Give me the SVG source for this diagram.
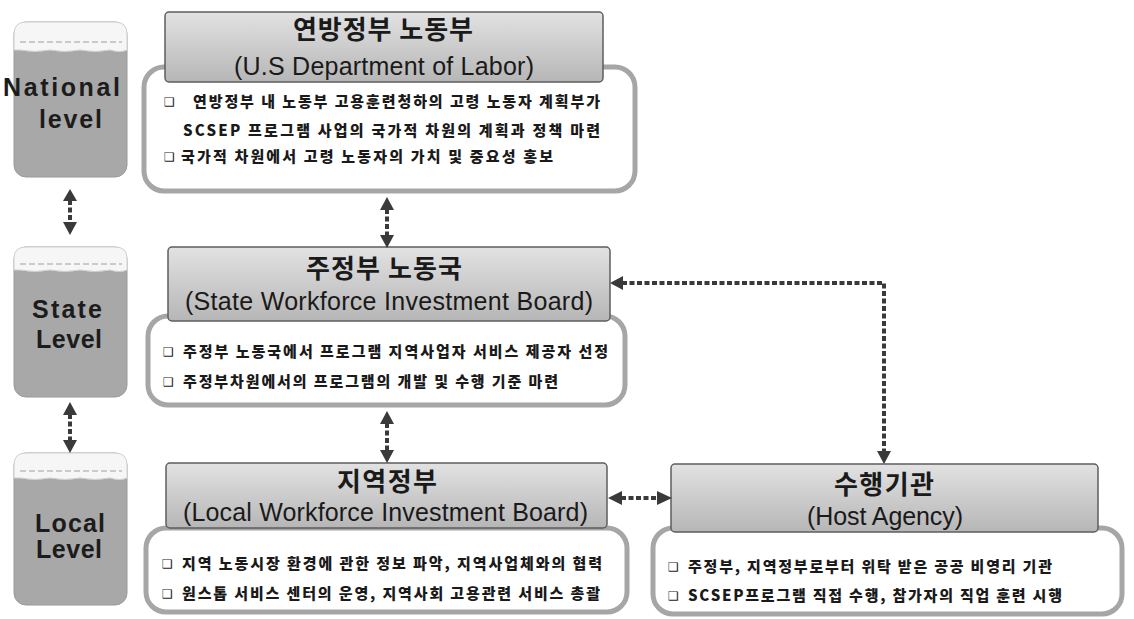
<svg xmlns="http://www.w3.org/2000/svg" width="1134" height="619" viewBox="0 0 1134 619">
<style>
.body{fill:#ffffff;stroke:#a6a6a6;stroke-width:5}
.head{fill:url(#hg);stroke:#5e5e5e;stroke-width:1.5}
.cyl{fill:#a8a8a8;stroke:#9a9a9a;stroke-width:1}
.cap{fill:#f6f6f6;stroke:#d0d0d0;stroke-width:1}
.capd{fill:none;stroke:#bcbcbc;stroke-width:1.5;stroke-dasharray:6 3}
.lvl{font-family:"Liberation Sans",Arial,sans-serif;font-weight:bold;font-size:25px;fill:#1c1c1c;text-anchor:start}
.ko{font-family:"Noto Sans CJK KR",sans-serif;font-weight:bold;font-size:26px;fill:#1a1a1a;text-anchor:middle}
.en{font-family:"Liberation Sans",Arial,sans-serif;font-size:25px;fill:#1a1a1a;text-anchor:start}
.bl{font-family:"Noto Sans CJK KR",sans-serif;font-weight:900;font-size:15px;fill:#1a1a1a}
.bu{font-family:"DejaVu Sans",sans-serif;font-size:12px;fill:#1a1a1a}
.dot{fill:none;stroke:#3a3a3a;stroke-width:4;stroke-dasharray:5 2.5}
.ah{fill:#3a3a3a}
</style>
<defs>
<linearGradient id="hg" x1="0" y1="0" x2="0" y2="1">
<stop offset="0" stop-color="#e2e2e2"/>
<stop offset="1" stop-color="#b6b6b6"/>
</linearGradient>
</defs>

<g id="level-national">
<rect class="cyl" x="14" y="22" width="113" height="155" rx="12"/>
<path class="cap" d="M14,50 L14,34 Q14,22 26,22 L115,22 Q127,22 127,34 L127,50 Q120,53 110,50 Q95,53 80,50 Q65,53 50,50 Q35,53 20,50 Z"/>
<line class="capd" x1="20" y1="42" x2="122" y2="42"/>
<text class="lvl" x="3" y="96" textLength="117" lengthAdjust="spacing">National</text>
<text class="lvl" x="39" y="128" textLength="63" lengthAdjust="spacing">level</text>
</g>

<g id="level-state">
<rect class="cyl" x="14" y="247" width="113" height="150" rx="12"/>
<path class="cap" d="M14,270 L14,258 Q14,247 26,247 L115,247 Q127,247 127,258 L127,270 Q120,273 110,270 Q95,273 80,270 Q65,273 50,270 Q35,273 20,270 Z"/>
<line class="capd" x1="20" y1="264" x2="122" y2="264"/>
<text class="lvl" x="32" y="318" textLength="70" lengthAdjust="spacing">State</text>
<text class="lvl" x="36" y="348" textLength="66" lengthAdjust="spacing">Level</text>
</g>

<g id="level-local">
<rect class="cyl" x="14" y="453" width="113" height="152" rx="12"/>
<path class="cap" d="M14,478 L14,465 Q14,453 26,453 L115,453 Q127,453 127,465 L127,478 Q120,481 110,478 Q95,481 80,478 Q65,481 50,478 Q35,481 20,478 Z"/>
<line class="capd" x1="20" y1="471" x2="122" y2="471"/>
<text class="lvl" x="35" y="532" textLength="70" lengthAdjust="spacing">Local</text>
<text class="lvl" x="36" y="558" textLength="66" lengthAdjust="spacing">Level</text>
</g>

<g id="node-dol">
<rect class="body" x="144" y="67" width="491" height="124" rx="20"/>
<rect class="head" x="165" y="12" width="438" height="70" rx="4"/>
<text class="ko" x="383" y="39" textLength="180" lengthAdjust="spacing">연방정부 노동부</text>
<text class="en" x="234" y="75" textLength="300" lengthAdjust="spacing">(U.S Department of Labor)</text>
<text class="bu" x="164" y="106">❑</text>
<text class="bl" x="193" y="107" textLength="407" lengthAdjust="spacing">연방정부 내 노동부 고용훈련청하의 고령 노동자 계획부가</text>
<text class="bl" x="183" y="136" textLength="417" lengthAdjust="spacing">SCSEP 프로그램 사업의 국가적 차원의 계획과 정책 마련</text>
<text class="bu" x="164" y="161">❑</text>
<text class="bl" x="181" y="162" textLength="372" lengthAdjust="spacing">국가적 차원에서 고령 노동자의 가치 및 중요성 홍보</text>
</g>

<g id="node-swib">
<rect class="body" x="148" y="316" width="477" height="89" rx="20"/>
<rect class="head" x="168" y="247" width="442" height="74" rx="4"/>
<text class="ko" x="384" y="278" textLength="156" lengthAdjust="spacing">주정부 노동국</text>
<text class="en" x="185" y="310" textLength="408" lengthAdjust="spacing">(State Workforce Investment Board)</text>
<text class="bu" x="163" y="356">❑</text>
<text class="bl" x="183" y="357" textLength="425" lengthAdjust="spacing">주정부 노동국에서 프로그램 지역사업자 서비스 제공자 선정</text>
<text class="bu" x="163" y="386">❑</text>
<text class="bl" x="183" y="387" textLength="375" lengthAdjust="spacing">주정부차원에서의 프로그램의 개발 및 수행 기준 마련</text>
</g>

<g id="node-lwib">
<rect class="body" x="146" y="528" width="481" height="84" rx="20"/>
<rect class="head" x="166" y="463" width="441" height="65" rx="4"/>
<text class="ko" x="387" y="491" textLength="100" lengthAdjust="spacing">지역정부</text>
<text class="en" x="183" y="521" textLength="405" lengthAdjust="spacing">(Local Workforce Investment Board)</text>
<text class="bu" x="162" y="568">❑</text>
<text class="bl" x="182" y="569" textLength="420" lengthAdjust="spacing">지역 노동시장 환경에 관한 정보 파악, 지역사업체와의 협력</text>
<text class="bu" x="162" y="598">❑</text>
<text class="bl" x="182" y="599" textLength="418" lengthAdjust="spacing">원스톱 서비스 센터의 운영, 지역사회 고용관련 서비스 총괄</text>
</g>

<g id="node-host">
<rect class="body" x="653" y="528" width="469" height="86" rx="20"/>
<rect class="head" x="671" y="464" width="427" height="68" rx="4"/>
<text class="ko" x="884" y="494" textLength="100" lengthAdjust="spacing">수행기관</text>
<text class="en" x="807" y="525" textLength="156" lengthAdjust="spacing">(Host Agency)</text>
<text class="bu" x="668" y="571">❑</text>
<text class="bl" x="688" y="572" textLength="364" lengthAdjust="spacing">주정부, 지역정부로부터 위탁 받은 공공 비영리 기관</text>
<text class="bu" x="668" y="600">❑</text>
<text class="bl" x="688" y="601" textLength="374" lengthAdjust="spacing">SCSEP프로그램 직접 수행, 참가자의 직업 훈련 시행</text>
</g>

<g id="connectors">
<line class="dot" x1="70" y1="200" x2="70" y2="222"/>
<polygon class="ah" points="70,189 63,201 77,201"/>
<polygon class="ah" points="70,235 63,222 77,222"/>
<line class="dot" x1="70" y1="414" x2="70" y2="441"/>
<polygon class="ah" points="70,402 63,415 77,415"/>
<polygon class="ah" points="70,453 63,440 77,440"/>
<line class="dot" x1="387" y1="209" x2="387" y2="237"/>
<polygon class="ah" points="387,197 380,210 394,210"/>
<polygon class="ah" points="387,248 380,235 394,235"/>
<line class="dot" x1="387" y1="423" x2="387" y2="451"/>
<polygon class="ah" points="387,411 380,424 394,424"/>
<polygon class="ah" points="387,463 380,450 394,450"/>
<line class="dot" x1="621" y1="498" x2="658" y2="498"/>
<polygon class="ah" points="608,498 622,491 622,505"/>
<polygon class="ah" points="672,498 657,491 657,505"/>
<path class="dot" d="M622,283 L884,283 L884,452"/>
<polygon class="ah" points="610,283 623,276 623,290"/>
<polygon class="ah" points="884,464 877,451 891,451"/>
</g>
</svg>
